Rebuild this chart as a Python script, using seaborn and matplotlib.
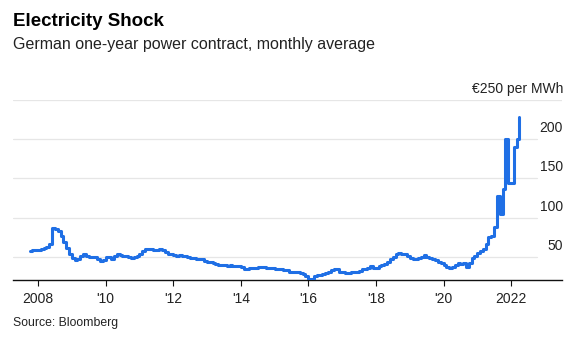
import matplotlib
matplotlib.use("Agg")
import matplotlib.pyplot as plt
import matplotlib.transforms as mtransforms
import seaborn as sns
import pandas as pd

# ---- data -------------------------------------------------------------
months = pd.date_range("2007-10-01", "2022-04-01", freq="MS")
price = [
    57, 58, 58,                                                        # 2007
    59, 60, 61, 62, 66, 87, 85.5, 83, 77, 69, 61, 54,                  # 2008
    48, 46, 47, 51, 53, 51, 50, 49, 49, 47, 45, 46,                    # 2009
    50, 49, 47, 51, 53, 52, 51, 51, 50, 48, 50, 51,                    # 2010
    54, 57, 60, 60, 60, 59, 58, 60, 58, 56, 54, 53,                    # 2011
    52.5, 51.5, 52, 51.5, 50.5, 50, 48.5, 48, 47.5, 47, 46.5, 45,      # 2012
    43.5, 43, 41.5, 40.5, 39.5, 39, 39, 38.5, 39, 38, 37.5, 37.5,      # 2013
    37, 34.5, 34.5, 35, 36, 36, 36.5, 37, 36.5, 36, 35.5, 35,          # 2014
    34.5, 34, 34, 33.5, 32.5, 31, 31, 30.5, 30, 29, 27.5, 25,          # 2015
    21.5, 22, 25, 26, 27, 28, 29, 31, 33.5, 34, 34, 31,                # 2016
    30, 29.5, 29, 30, 31, 31, 32, 34, 34.5, 36, 37.5, 36,              # 2017
    36, 38, 39, 40.5, 43.5, 46.5, 49, 53, 55, 53.5, 54, 51,            # 2018
    48.5, 46.5, 46.5, 48.5, 50, 52, 50, 48, 46.5, 45.5, 43.5, 41.5,    # 2019
    39.5, 37, 36, 37, 40, 41.5, 40.5, 41.5, 37, 42, 48, 51,            # 2020
    55, 57, 60, 66.5, 75, 77, 88, 127, 105, 137, 200, 144,             # 2021
    144, 190, 201, 229,                                                # 2022
]
x_tick_years = [2008, 2010, 2012, 2014, 2016, 2018, 2020, 2022]
x_tick_labels = ["2008", "'10", "'12", "'14", "'16", "'18", "'20", "2022"]
y_ticks = [50, 100, 150, 200, 250]
y_tick_labels = ["50", "100", "150", "200", "€250 per MWh"]

title = "Electricity Shock"
subtitle = "German one-year power contract, monthly average"
source = "Source: Bloomberg"

# ---- style ------------------------------------------------------------
sns.set_theme(style="white")
plt.rcParams["font.family"] = ["Liberation Sans", "DejaVu Sans"]

W, H = 587, 345
fig = plt.figure(figsize=(W / 100, H / 100), dpi=100)
ax = fig.add_axes([13 / W, (H - 280) / H, 549 / W, 179.8 / H])

df = pd.DataFrame({"month": months, "price": price})
sns.lineplot(data=df, x="month", y="price", ax=ax, color="#1f6fe5",
             linewidth=2.2, drawstyle="steps-post", zorder=3)

ax.set_xlim(pd.Timestamp("2007-04-05"), pd.Timestamp("2023-07-05"))
ax.set_ylim(20.2, 250)

# gridlines
for v in y_ticks[:-1]:
    ax.axhline(v, xmin=0, xmax=0.954, color="#e6e6e6", lw=0.9, zorder=1)
ax.axhline(y_ticks[-1], xmin=0, xmax=1, color="#e6e6e6", lw=0.9, zorder=1)

# spines
for s in ["top", "right", "left"]:
    ax.spines[s].set_visible(False)
ax.spines["bottom"].set_color("#111111")
ax.spines["bottom"].set_linewidth(1.0)

# x ticks
ax.set_xticks([pd.Timestamp(f"{y}-01-01") for y in x_tick_years])
ax.set_xticklabels(x_tick_labels)
ax.tick_params(axis="x", direction="out", length=4.3, width=0.8,
               color="#111111", pad=4, labelsize=10, labelcolor="#222222",
               bottom=True)

# y ticks on right, sitting above gridlines
ax.yaxis.tick_right()
ax.set_yticks(y_ticks)
ax.set_yticklabels(y_tick_labels)
ax.tick_params(axis="y", length=0, pad=0.8, labelsize=10,
               labelcolor="#222222", right=False, left=False,
               labelright=True, labelleft=False)
offset = mtransforms.ScaledTranslation(0, 7 / 100, fig.dpi_scale_trans)
for t in ax.yaxis.get_major_ticks():
    t.label2.set_horizontalalignment("right")
    t.label2.set_verticalalignment("baseline")
    t.label2.set_transform(t.label2.get_transform() + offset)

ax.set_xlabel("")
ax.set_ylabel("")

# texts
fig.text(13 / W, 1 - 22 / H, title, fontsize=13.5, fontweight="bold",
         color="#000000", va="center", ha="left")
fig.text(13 / W, 1 - 44 / H, subtitle, fontsize=11.5, color="#222222",
         va="center", ha="left")
fig.text(13 / W, 1 - 323 / H, source, fontsize=8.8, color="#222222",
         va="center", ha="left")

fig.savefig("out.png", dpi=100)
